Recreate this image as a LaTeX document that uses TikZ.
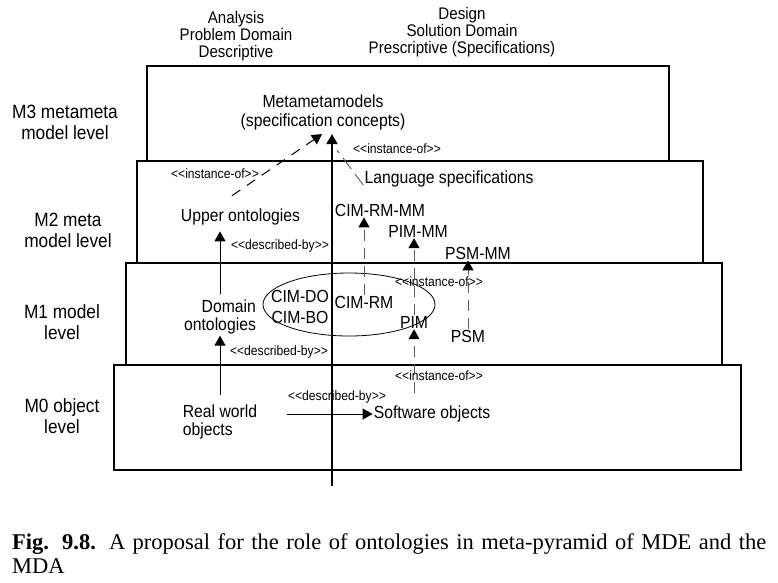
\documentclass[tikz,border=0pt]{standalone}
\usepackage{fontspec}
\setmainfont{Liberation Sans}[FakeStretch=0.9]
\newfontfamily\capfont{Liberation Serif}
\usetikzlibrary{arrows.meta,shapes.geometric,calc}
\tikzset{
  lbl/.style={font=\fontsize{17.5}{18.5}\selectfont, inner sep=1pt, align=center},
  hdr/.style={font=\fontsize{16.8}{17}\selectfont, inner sep=1pt, align=center},
  sml/.style={font=\fontsize{13.5}{14}\selectfont, inner sep=1pt},
  lvl/.style={font=\fontsize{19.2}{21}\selectfont, inner sep=1pt, align=center},
  capstyle/.style={font=\capfont\fontsize{22.5}{24}\selectfont, anchor=base west, inner sep=0pt},
  levelbox/.style={draw, line width=1.3pt},
  tip/.style={-{Triangle[length=10pt,width=11pt,color=black,fill=black]}},
  solidarr/.style={tip, line width=1pt},
  deparr/.style={tip, draw=gray!70!black, line width=0.9pt, dash pattern=on 11pt off 7pt},
  darkdash/.style={tip, line width=1pt, dash pattern=on 10pt off 8pt},
  grayline/.style={draw=gray!70!black, line width=0.9pt, dash pattern=on 14pt off 6pt},
  axisline/.style={tip, line width=2pt}
}
\begin{document}
\begin{tikzpicture}[x=1pt,y=-1pt]
\useasboundingbox (0,0) rectangle (778,582);
% level boxes
\draw[levelbox] (147,66) rectangle (669,161);
\draw[levelbox] (137,161) rectangle (703,263);
\draw[levelbox] (126,263) rectangle (722,365);
\draw[levelbox] (114,365) rectangle (741,470);
% headers
\node[hdr] (hA) at (236,36) {Analysis\\Problem Domain\\Descriptive};
\node[hdr] (hD) at (462,32) {Design\\Solution Domain\\Prescriptive (Specifications)};
% level labels
\node[lvl] (l3) at (65,122) {M3 metameta\\model level};
\node[lvl] (l2) at (68,230) {M2 meta\\model level};
\node[lvl] (l1) at (62,322) {M1 model\\level};
\node[lvl] (l0) at (62,416) {M0 object\\level};
% nodes
\node[lbl] (mm) at (323,112.5) {Metametamodels\\(specification concepts)};
\node[lbl] (ls) at (449,179) {Language specifications};
\node[lbl] (uo) at (240.5,217) {Upper ontologies};
\node[lbl] (cimrmmm) at (380,210) {CIM-RM-MM};
\node[lbl] (pimmm) at (418,231) {PIM-MM};
\node[lbl] (psmmm) at (478,253) {PSM-MM};
\node[lbl, align=right] (dom) at (220,317) {Domain\\ontologies};
\node[lbl] (cimdo) at (300,296) {CIM-DO};
\node[lbl] (cimbo) at (300,317) {CIM-BO};
\node[lbl] (cimrm) at (364,302) {CIM-RM};
\node[lbl] (pim) at (414,322) {PIM};
\node[lbl] (psm) at (468,336) {PSM};
\node[lbl, align=left] (rw) at (220,422) {Real world\\objects};
\node[lbl] (so) at (432,414) {Software objects};
\node[ellipse, draw, line width=0.8pt, minimum width=172pt, minimum height=63pt, inner sep=0pt] (ell) at (349,304.5) {};
% small labels
\node[sml] (i1) at (397,149) {<{}<instance-of>{}>};
\node[sml] (i2) at (215,174) {<{}<instance-of>{}>};
\node[sml] (d1) at (280,246) {<{}<described-by>{}>};
\node[sml] (i3) at (439,282) {<{}<instance-of>{}>};
\node[sml] (d2) at (279,352) {<{}<described-by>{}>};
\node[sml] (i4) at (439,376) {<{}<instance-of>{}>};
\node[sml] (d3) at (337,397) {<{}<described-by>{}>};
% axis
\coordinate (axisbot) at (332,486);
\draw[axisline] (axisbot) -- ($(mm.south -| axisbot)+(0,3)$);
% connectors to metametamodels
\draw[darkdash] ($(uo.north)+(-8.5,-12)$) -- ($(mm.south)+(-1,3)$);
\draw[grayline] ($(ls.west)+(0,6)$) -- ($(mm.south -| axisbot)+(5,19)$);
% M2 <- M1 instance-of
\draw[deparr] (cimrm.north) -- (cimrm.north |- cimrmmm.south);
\draw[deparr] (pim.north) -- (pim.north |- pimmm.south);
\draw[deparr] (psm.north) -- (psm.north |- psmmm.south);
\draw[deparr, shorten <=12pt] (pim |- so.north) -- (pim.south);
% described-by
\draw[solidarr, shorten <=4pt, shorten >=5pt] (dom.north) -- (dom.north |- uo.south);
\draw[solidarr, shorten <=8pt] (rw.north) -- (rw.north |- dom.south);
\draw[solidarr, shorten <=29pt] (rw.east |- so.west) -- (so.west);
% caption
\node[capstyle] (cap1) at (12,549)
  {\makebox[754pt][s]{\textbf{Fig. 9.8.} A proposal for the role of ontologies in meta-pyramid of MDE and the}};
\node[capstyle] (cap2) at (12,573) {MDA};
\end{tikzpicture}
\end{document}
